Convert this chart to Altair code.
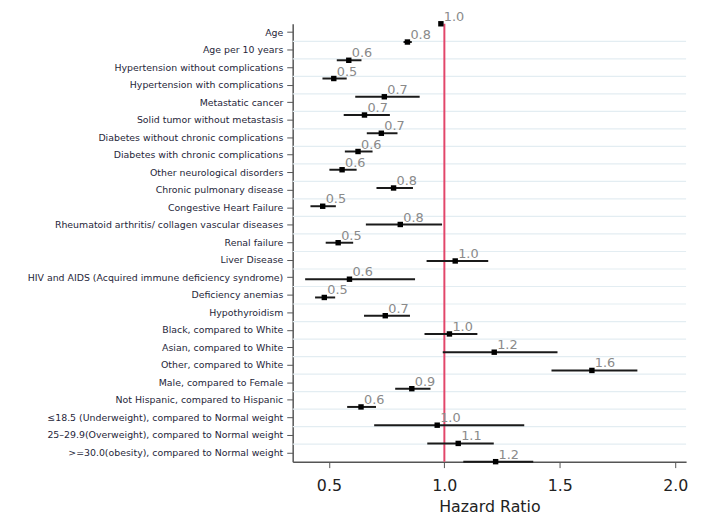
import altair as alt
import pandas as pd

labels = [
    "Age",
    "Age per 10 years",
    "Hypertension without complications",
    "Hypertension with complications",
    "Metastatic cancer",
    "Solid tumor without metastasis",
    "Diabetes without chronic complications",
    "Diabetes with chronic complications",
    "Other neurological disorders",
    "Chronic pulmonary disease",
    "Congestive Heart Failure",
    "Rheumatoid arthritis/ collagen vascular diseases",
    "Renal failure",
    "Liver Disease",
    "HIV and AIDS (Acquired immune deficiency syndrome)",
    "Deficiency anemias",
    "Hypothyroidism",
    "Black, compared to White",
    "Asian, compared to White",
    "Other, compared to White",
    "Male, compared to Female",
    "Not Hispanic, compared to Hispanic",
    "\u226418.5 (Underweight), compared to Normal weight",
    "25\u201329.9(Overweight), compared to Normal weight",
    ">=30.0(obesity), compared to Normal weight",
]
hr = [0.985, 0.840, 0.586, 0.521, 0.740, 0.654, 0.727, 0.626, 0.557, 0.780,
      0.473, 0.809, 0.540, 1.047, 0.589, 0.480, 0.744, 1.022, 1.216, 1.639,
      0.859, 0.639, 0.969, 1.060, 1.222]
ci_low = [0.980, 0.823, 0.534, 0.472, 0.614, 0.564, 0.664, 0.569, 0.502, 0.706,
          0.420, 0.660, 0.486, 0.923, 0.397, 0.440, 0.652, 0.914, 0.993, 1.464,
          0.787, 0.579, 0.696, 0.926, 1.082]
ci_high = [0.990, 0.859, 0.641, 0.577, 0.893, 0.764, 0.797, 0.689, 0.620, 0.864,
           0.530, 0.990, 0.605, 1.190, 0.873, 0.527, 0.851, 1.143, 1.490, 1.836,
           0.940, 0.704, 1.346, 1.214, 1.385]
hr_text = ["1.0", "0.8", "0.6", "0.5", "0.7", "0.7", "0.7", "0.6", "0.6", "0.8",
           "0.5", "0.8", "0.5", "1.0", "0.6", "0.5", "0.7", "1.0", "1.2", "1.6",
           "0.9", "0.6", "1.0", "1.1", "1.2"]
x_ticks = [0.5, 1.0, 1.5, 2.0]
ref_value = [1.0]

n = len(labels)
df = pd.DataFrame({
    "label": labels,
    "idx": list(range(n)),
    "hr": hr,
    "lo": ci_low,
    "hi": ci_high,
    "txt": hr_text,
})
grid_df = pd.DataFrame({"label": labels[:-1]})
ref_df = pd.DataFrame({"ref": ref_value})

FONT = "DejaVu Sans"

xscale = alt.Scale(domain=[0.343, 2.047], nice=False, zero=False)
xaxis = alt.Axis(
    values=x_ticks, format=".1f", grid=False, title="Hazard Ratio",
    labelFontSize=16, labelColor="#222222", labelFont=FONT,
    tickSize=6, tickColor="#555555", domainColor="#555555", domainWidth=1.5,
    labelPadding=10, titleFontSize=16, titleFontWeight="normal",
    titleColor="#222222", titleFont=FONT, titlePadding=5,
)

band_scale = alt.Scale(type="band", domain=labels, paddingInner=0, paddingOuter=0)

grid = alt.Chart(grid_df).mark_rule(color="#e3edf2", strokeWidth=1.2).encode(
    y=alt.Y(
        "label:N", sort=labels, scale=band_scale, bandPosition=1,
        axis=alt.Axis(
            title=None, grid=False, labelFontSize=9.5, labelFont=FONT,
            labelColor="#1f1f3a", tickSize=6, tickColor="#555555",
            domainColor="#555555", domainWidth=1.5, labelPadding=4,
            labelLimit=400,
        ),
    )
)

yq = alt.Y("idx:Q", scale=alt.Scale(domain=[0, n - 1], reverse=True, nice=False, zero=False), axis=None)

ref_line = alt.Chart(ref_df).mark_rule(color="#e2466a", strokeWidth=2).encode(
    x=alt.X("ref:Q", scale=xscale, axis=xaxis)
)

ci = alt.Chart(df).mark_rule(color="#1a1a1a", strokeWidth=2).encode(
    x=alt.X("lo:Q", scale=xscale, axis=xaxis),
    x2="hi:Q",
    y=yq,
)

pts = alt.Chart(df).mark_square(size=30, color="#000000", opacity=1).encode(
    x=alt.X("hr:Q", scale=xscale, axis=xaxis),
    y=yq,
)

txt = alt.Chart(df).mark_text(
    align="left", baseline="alphabetic", dx=3, dy=-3, fontSize=13,
    font=FONT, color="#8a8a8a",
).encode(
    x=alt.X("hr:Q", scale=xscale, axis=xaxis),
    y=yq,
    text="txt:N",
)

markers = alt.layer(ref_line, ci, pts, txt)

chart = alt.layer(grid, markers).resolve_scale(y="independent").properties(
    width=398,
    height=443,
    autosize=alt.AutoSizeParams(type="none"),
    padding={"left": 288, "top": 13, "right": 8, "bottom": 52},
).configure_view(stroke=None)

chart.save("out.html", embed_options={"renderer": "svg", "actions": False})
